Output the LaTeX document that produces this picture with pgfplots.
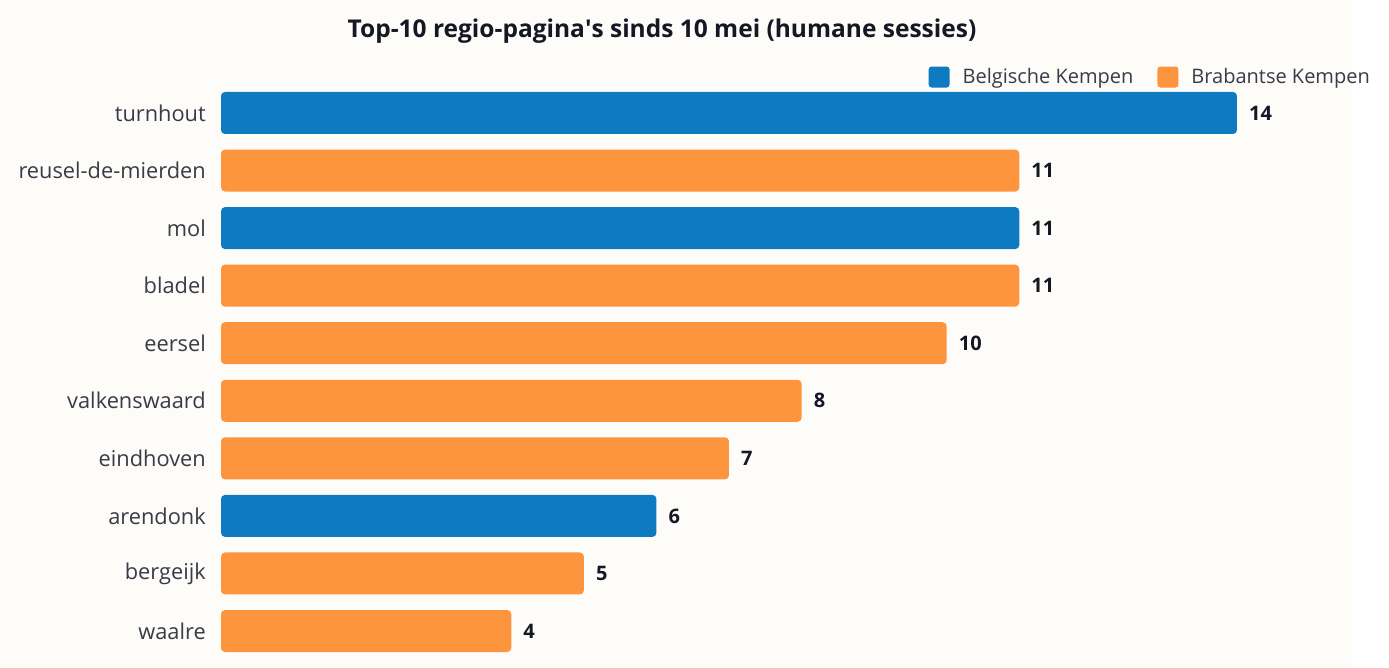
\documentclass[border=0pt]{standalone}
\usepackage{pgfplots}
\pgfplotsset{compat=1.18}
\usepackage{fontspec}
\setmainfont{Open Sans}
\definecolor{bgc}{HTML}{FDFCF9}
\definecolor{blu}{HTML}{0E7BC0}
\definecolor{org}{HTML}{FC953E}
\definecolor{lab}{HTML}{3A3A48}
\definecolor{val}{HTML}{141824}
\begin{document}
\begin{tikzpicture}
\path[use as bounding box] (0,0) rectangle (1389bp,668bp);
\fill[white] (0,0) rectangle (1389bp,668bp);
\fill[bgc] (0,0) rectangle (1352bp,668bp);
\node[font=\fontsize{24.5bp}{28bp}\selectfont\bfseries, text=val] at (662bp,637bp) {Top-10 regio-pagina\textquotesingle s sinds 10 mei (humane sessies)};
\begin{axis}[
  at={(221bp,8.2bp)}, anchor=south west,
  scale only axis, width=1131bp, height=575.6bp,
  xmin=0, xmax=15.585, ymin=-0.5, ymax=9.5, y dir=reverse,
  xbar, bar width=42bp,
  axis line style={draw=none}, major tick length=0pt,
  xtick=\empty, ytick={0,...,9},
  yticklabels={turnhout,reusel-de-mierden,mol,bladel,eersel,valkenswaard,eindhoven,arendonk,bergeijk,waalre},
  yticklabel style={font=\fontsize{21.8bp}{26bp}\selectfont, text=lab, anchor=east, inner sep=0pt, xshift=-15bp},
  nodes near coords,
  nodes near coords style={font=\fontsize{20bp}{24bp}\selectfont\bfseries, text=val, anchor=west, inner sep=0pt, xshift=12bp},
  /pgf/number format/assume math mode=true,
  legend columns=2,
  legend style={draw=none, fill=none, at={(1.0177,1.0125)}, anchor=east, inner sep=0pt,
    font=\fontsize{20bp}{24bp}\selectfont, text=lab,
    /tikz/every odd column/.append style={column sep=11bp},
    /tikz/every even column/.append style={column sep=22bp}},
  legend image code/.code={\fill[#1, rounded corners=3bp] (0bp,-10.5bp) rectangle (21bp,10.5bp);},
]
% Belgische Kempen
\addplot[fill=blu, draw=none, rounded corners=4bp, bar shift=0pt] coordinates {(14,0) (11,2) (6,7)};
\addlegendentry{Belgische Kempen}
% Brabantse Kempen
\addplot[fill=org, draw=none, rounded corners=4bp, bar shift=0pt] coordinates {(11,1) (11,3) (10,4) (8,5) (7,6) (5,8) (4,9)};
\addlegendentry{Brabantse Kempen}
\end{axis}
\end{tikzpicture}
\end{document}
